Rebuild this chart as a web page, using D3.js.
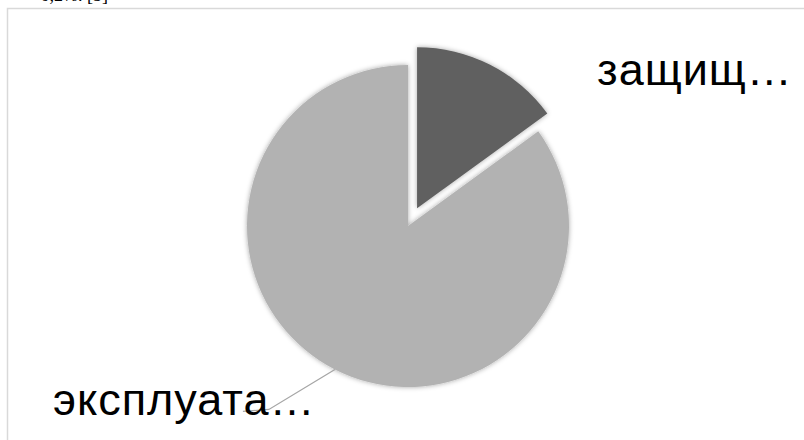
<!DOCTYPE html>
<html>
	<head>
		<meta charset="utf-8">
		<title>pie</title>
		<style type="text/css">
			body { margin: 0; background: #fff; }
			svg { display: block; }
		</style>
		<script src="https://cdn.jsdelivr.net/npm/d3@7/dist/d3.min.js"></script>
	</head>
	<body>
		<div id="chart"></div>
		<script type="text/javascript">
		var categories = ["защищ…", "эксплуата…"];
		var values = [15, 85];
		var colors = ["#606060", "#b2b2b2"];

		var width = 804, height = 440;
		var cx = 408, cy = 226, radius = 161, explode = 20;

		var svg = d3.select("#chart").append("svg")
			.attr("width", width)
			.attr("height", height);

		var defs = svg.append("defs");
		var shadow = defs.append("filter").attr("id", "shadow")
			.attr("x", "-20%").attr("y", "-20%").attr("width", "140%").attr("height", "140%");
		shadow.append("feDropShadow")
			.attr("dx", 0).attr("dy", 0)
			.attr("stdDeviation", 2.5)
			.attr("flood-color", "#000")
			.attr("flood-opacity", 0.35);

		// bit of text from the page above the chart
		svg.append("text")
			.attr("x", 108).attr("y", 1)
			.attr("text-anchor", "end")
			.style("font-family", "'Liberation Serif', serif")
			.style("font-size", "18px")
			.text("0,2%. [5]");

		// frame (runs off the right and bottom edges)
		svg.append("rect")
			.attr("x", 7.5).attr("y", 8.5)
			.attr("width", 810).attr("height", 450)
			.attr("fill", "none")
			.attr("stroke", "#d9d9d9")
			.attr("stroke-width", 1.5);

		var color = d3.scaleOrdinal().domain(categories).range(colors);
		var pie = d3.pie().sort(null).value(function (d, i) { return values[i]; });
		var arcs = pie(categories);
		var arc = d3.arc().innerRadius(0).outerRadius(radius);

		var g = svg.append("g").attr("transform", "translate(" + cx + "," + cy + ")");

		g.selectAll("path")
			.data(arcs)
			.enter()
			.append("path")
			.attr("d", arc)
			.attr("fill", function (d) { return color(d.data); })
			.attr("filter", "url(#shadow)")
			.attr("transform", function (d, i) {
				if (i != 0) return null;
				var a = (d.startAngle + d.endAngle) / 2;
				return "translate(" + (Math.sin(a) * explode) + "," + (-Math.cos(a) * explode) + ")";
			});

		// leader line for the big slice
		var big = arcs[1];
		var mid = (big.startAngle + big.endAngle) / 2;
		var p0 = [Math.sin(mid) * radius, -Math.cos(mid) * radius];
		var p1 = [p0[0] - 66, p0[1] + 40];
		var p2 = [p1[0] - 26, p1[1] + 2];
		g.append("polyline")
			.attr("points", [p0, p1, p2].map(function (p) { return p.join(","); }).join(" "))
			.attr("fill", "none")
			.attr("stroke", "#a6a6a6")
			.attr("stroke-width", 1.3);

		var labelPos = [[189, -141], [-355, 189]];
		g.selectAll("text.label")
			.data(arcs)
			.enter()
			.append("text")
			.attr("class", "label")
			.attr("x", function (d, i) { return labelPos[i][0]; })
			.attr("y", function (d, i) { return labelPos[i][1]; })
			.style("font-family", "'Liberation Sans', Arial, sans-serif")
			.style("font-size", "45px")
			.style("letter-spacing", "1px")
			.style("fill", "#000")
			.text(function (d) { return d.data; });
		</script>
	</body>
</html>
